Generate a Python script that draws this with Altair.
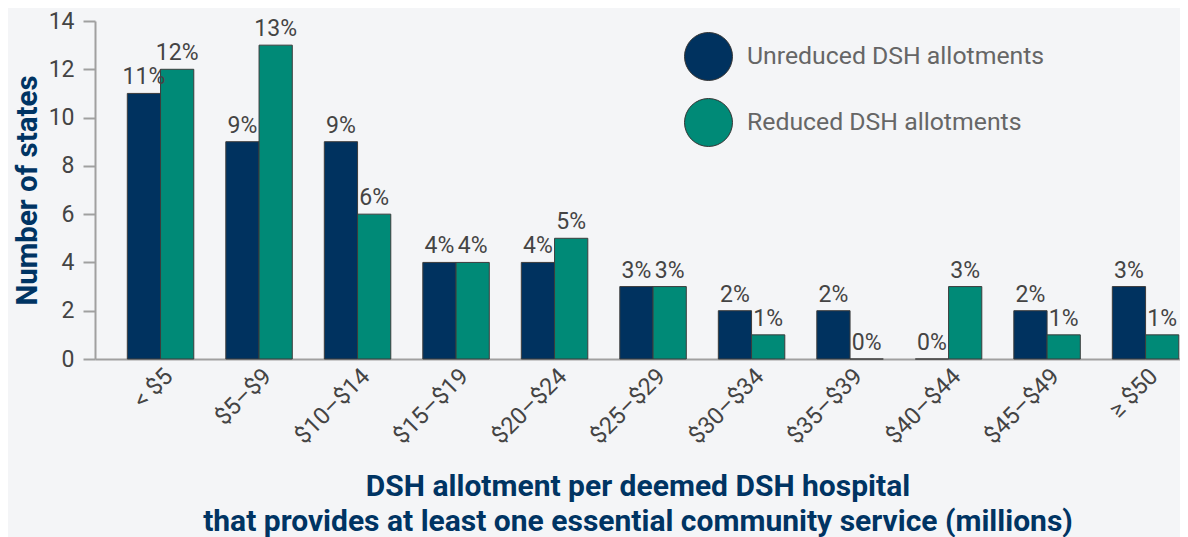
import altair as alt
import pandas as pd

categories = ["< $5", "$5–$9", "$10–$14", "$15–$19", "$20–$24", "$25–$29",
              "$30–$34", "$35–$39", "$40–$44", "$45–$49", "≥ $50"]
series = ["Unreduced DSH allotments", "Reduced DSH allotments"]
unreduced = [11, 9, 9, 4, 4, 3, 2, 2, 0, 2, 3]
reduced = [12, 13, 6, 4, 5, 3, 1, 0, 3, 1, 1]
unreduced_pct = ["11%", "9%", "9%", "4%", "4%", "3%", "2%", "2%", "0%", "2%", "3%"]
reduced_pct = ["12%", "13%", "6%", "4%", "5%", "3%", "1%", "0%", "3%", "1%", "1%"]
colors = ["#00325f", "#008a77"]

rows = []
for i, c in enumerate(categories):
    rows.append({"cat": c, "series": series[0], "n": unreduced[i], "pct": unreduced_pct[i]})
    rows.append({"cat": c, "series": series[1], "n": reduced[i], "pct": reduced_pct[i]})
df = pd.DataFrame(rows)

FONT = "Roboto"
NAVY = "#003463"

x = alt.X("cat:N", sort=categories,
          scale=alt.Scale(paddingInner=0.325, paddingOuter=0.17, align=0.9645, round=False),
          axis=alt.Axis(title=["DSH allotment per deemed DSH hospital",
                               "that provides at least one essential community service (millions)"],
                        labelAngle=-45, labelFontSize=23.5, labelColor="#444444", labelFont=FONT,
                        labelPadding=5, ticks=False, domainColor="#a0a0a0", domainWidth=2,
                        titleFont=FONT, titleFontSize=30, titleFontWeight="bold", titleColor=NAVY,
                        titleBaseline="alphabetic", titleY=136, titleLineHeight=35))
xo = alt.XOffset("series:N", sort=series)
y = alt.Y("n:Q", scale=alt.Scale(domain=[0, 14]),
          axis=alt.Axis(title="Number of states", values=[0, 2, 4, 6, 8, 10, 12, 14],
                        grid=False, tickSize=12, tickColor="#a0a0a0", tickWidth=2,
                        domainColor="#a0a0a0", domainWidth=2,
                        labelFontSize=23, labelColor="#444444", labelFont=FONT, labelPadding=9,
                        titleFont=FONT, titleFontSize=29.5, titleFontWeight="bold", titleColor=NAVY,
                        titlePadding=6))

bars = alt.Chart(df).mark_bar(stroke="#3c3c3c", strokeWidth=1).encode(
    x=x, xOffset=xo, y=y,
    color=alt.Color("series:N", sort=series,
                    scale=alt.Scale(domain=series, range=colors),
                    legend=alt.Legend(title=None, orient="none", legendX=589, legendY=11,
                                      symbolType="circle", symbolSize=2300,
                                      symbolStrokeColor="#333333", symbolStrokeWidth=1,
                                      labelFont=FONT, labelFontSize=24.8, labelColor="#666666",
                                      labelOffset=14, rowPadding=13, symbolOpacity=1,
                                      labelLimit=500)),
)

labels = alt.Chart(df).mark_text(baseline="alphabetic", dy=-9, fontSize=23, font=FONT,
                                 color="#444444").encode(
    x=x, xOffset=xo, y=y, text="pct:N"
)

chart = alt.layer(bars, labels).properties(
    width=1085, height=338,
    background="#f4f5f7",
    autosize=alt.AutoSizeParams(type="none"),
    padding={"left": 87, "top": 13, "right": 0, "bottom": 178},
).configure_view(stroke=None)

chart.save("out.html", embed_options={"renderer": "svg", "actions": False})
